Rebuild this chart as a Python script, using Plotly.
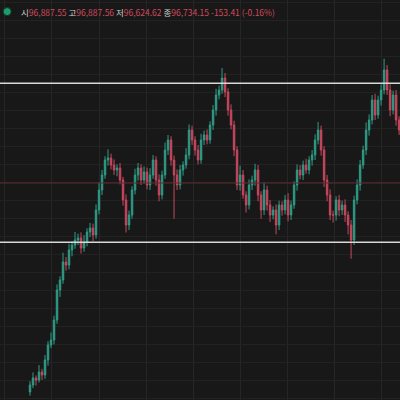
import plotly.graph_objects as go

closes = [92670, 92782, 92750, 92878, 92830, 93070, 93310, 93390, 93710, 94190, 94350, 94638, 94590, 94830, 94910, 94990, 95022, 94862, 94958, 95118, 95182, 95070, 95470, 95790, 96030, 96270, 96302, 96190, 96110, 96142, 95950, 95630, 95230, 95390, 95790, 96030, 96142, 95950, 96078, 95870, 96030, 96270, 95950, 95710, 96030, 96430, 96590, 96270, 96030, 95870, 96110, 96190, 96350, 96750, 96590, 96430, 96270, 96590, 96670, 96590, 96830, 97070, 97310, 97390, 97582, 97358, 97070, 96830, 96430, 95870, 96030, 95710, 95550, 95870, 95950, 96110, 95710, 95470, 95790, 95550, 95390, 95470, 95230, 95550, 95470, 95630, 95390, 95550, 95870, 96110, 96030, 96190, 96110, 96270, 96350, 96590, 96750, 96430, 95950, 95710, 95390, 95390, 95630, 95470, 95550, 95390, 95230, 94990, 95630, 95870, 96190, 96430, 96750, 96910, 97230, 96990, 97230, 97390, 97710, 97390, 97070, 97310, 96910, 96750]
first_open = 92560
wick_up = [60, 90, 40, 110, 50, 80, 60, 120, 70, 90, 60, 150, 80, 100, 60, 130, 70, 90, 110, 60, 80, 70, 90, 120, 80, 60, 140, 70, 90, 60, 80, 50, 90, 70, 60, 100, 80, 60, 90, 70, 110, 80, 60, 90, 70, 120, 80, 60, 70, 90, 80, 60, 110, 90, 70, 60, 80, 100, 70, 90, 60, 80, 100, 70, 160, 80, 60, 90, 70, 60, 150, 80, 60, 90, 70, 100, 80, 60, 120, 70, 80, 60, 90, 70, 60, 80, 110, 70, 60, 90, 80, 70, 100, 60, 80, 90, 130, 70, 60, 80, 90, 70, 60, 80, 70, 90, 60, 80, 70, 90, 80, 70, 120, 90, 80, 100, 70, 90, 180, 80, 90, 70, 80, 60]
wick_dn = [60, 50, 90, 40, 80, 60, 90, 50, 70, 60, 110, 60, 90, 70, 100, 60, 80, 90, 60, 70, 80, 100, 60, 70, 80, 60, 90, 70, 80, 100, 70, 90, 120, 80, 60, 70, 90, 80, 60, 70, 80, 60, 90, 100, 70, 60, 80, 90, 700, 80, 70, 90, 60, 70, 80, 90, 70, 60, 80, 70, 60, 80, 90, 70, 60, 80, 90, 70, 100, 80, 90, 60, 120, 70, 80, 90, 100, 140, 80, 90, 110, 70, 150, 80, 90, 70, 100, 80, 60, 90, 70, 80, 60, 70, 90, 80, 70, 90, 110, 100, 80, 120, 90, 100, 80, 110, 150, 300, 80, 70, 90, 60, 80, 90, 70, 80, 60, 90, 70, 80, 100, 70, 90, 80]
level_hi = 97500
level_lo = 94956
level_mid = 95902

opens = [first_open] + closes[:-1]
highs = [max(o, c) + u for o, c, u in zip(opens, closes, wick_up)]
lows = [min(o, c) - d for o, c, d in zip(opens, closes, wick_dn)]
xs = list(range(len(closes)))

fig = go.Figure(go.Candlestick(
    x=xs, open=opens, high=highs, low=lows, close=closes,
    increasing=dict(line=dict(color="#2f9c86", width=1), fillcolor="#2f9c86"),
    decreasing=dict(line=dict(color="#c8485f", width=1), fillcolor="#c8485f"),
    whiskerwidth=0, showlegend=False,
))
for lvl, col, w in [(level_hi, "#d8d8d8", 1.5), (level_lo, "#d8d8d8", 1.5), (level_mid, "#5e2a30", 1)]:
    fig.add_shape(type="line", xref="paper", x0=0, x1=1, y0=lvl, y1=lvl,
                  line=dict(color=col, width=w))

txt = ("<span style='color:#cfcfcf'>시</span><span style='color:#d04a5c'>96,887.55</span> "
       "<span style='color:#cfcfcf'>고</span><span style='color:#d04a5c'>96,887.56</span> "
       "<span style='color:#cfcfcf'>저</span><span style='color:#d04a5c'>96,624.62</span> "
       "<span style='color:#cfcfcf'>종</span><span style='color:#d04a5c'>96,734.15 -153.41 (-0.16%)</span>")
fig.add_annotation(xref="paper", yref="paper", x=0.048, y=0.97, xanchor="left", yanchor="middle",
                   text=txt, showarrow=False, font=dict(size=8.5, family="Noto Sans CJK KR"))
fig.add_shape(type="circle", xref="paper", yref="paper", x0=0.008, x1=0.028, y0=0.961, y1=0.981,
              fillcolor="#1f9c6e", line=dict(color="#0e3a2a", width=1))

fig.update_layout(
    width=400, height=400, margin=dict(l=0, r=0, t=0, b=0),
    paper_bgcolor="#181818", plot_bgcolor="#181818",
    xaxis=dict(range=[-10, 123.3], rangeslider=dict(visible=False), showticklabels=False,
               showgrid=True, gridcolor="#262626", tick0=7.3, dtick=15.7, zeroline=False),
    yaxis=dict(range=[92430, 98830], showticklabels=False, showgrid=True, gridcolor="#222222",
               dtick=288, zeroline=False),
)
fig.write_html("out.html", config={"displayModeBar": False},
               post_script="document.body.style.margin='0';document.body.style.background='#181818';")
